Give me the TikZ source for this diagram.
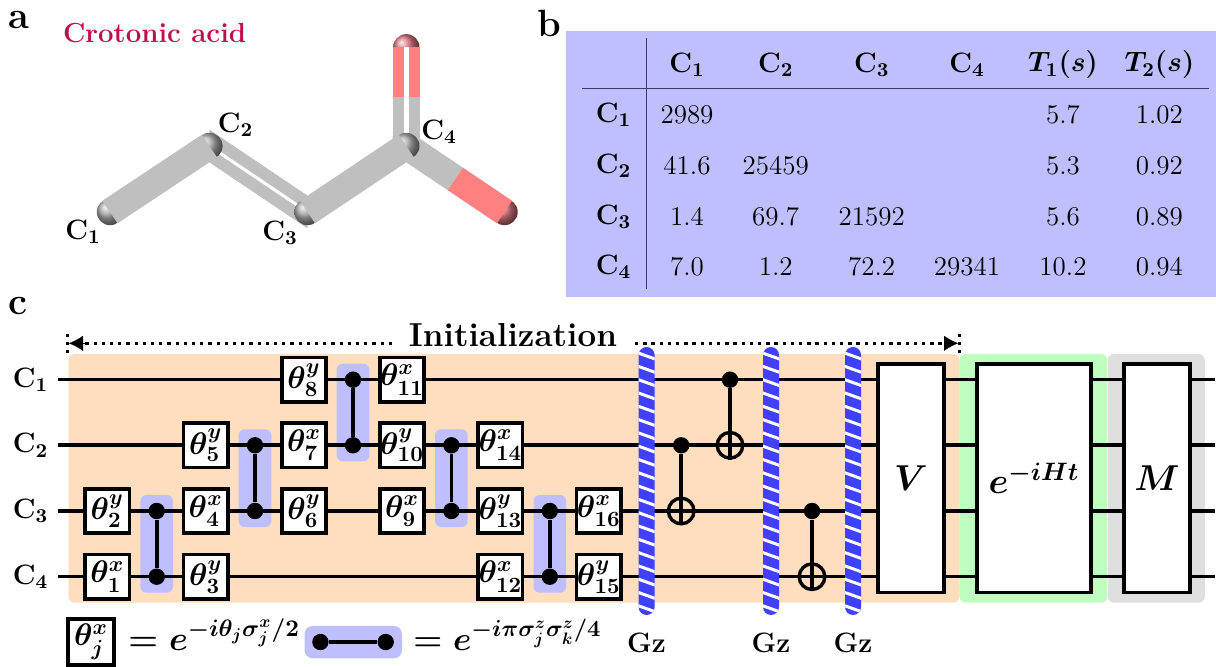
\RequirePackage{fix-cm}
\documentclass[tikz,border=0pt]{standalone}
\usepackage{amsmath}
\usetikzlibrary{arrows.meta}
\newcommand\fsz[1]{\fontsize{#1}{#1}\selectfont}
\definecolor{lav}{RGB}{191,191,255}
\definecolor{peach}{RGB}{255,222,191}
\definecolor{mint}{RGB}{191,255,191}
\definecolor{lgray}{RGB}{223,223,223}
\definecolor{bond}{RGB}{191,191,191}
\definecolor{bondred}{RGB}{255,128,128}
\definecolor{crim}{RGB}{192,16,76}
\definecolor{gzb}{RGB}{64,64,255}
\definecolor{ruleb}{RGB}{60,60,100}
\tikzset{
 x=0.5pt,y=-0.5pt,
 panel/.style={font=\fsz{19}\bfseries,inner sep=0,outer sep=0},
 lab/.style={font=\fsz{14}\boldmath,inner sep=0},
 num/.style={font=\fsz{13.5},inner sep=0},
 wire/.style={line width=1.8pt},
 gate/.style={draw,fill=white,line width=1.75pt,inner sep=0,minimum width=22.2pt,minimum height=22.2pt,font=\fsz{15.6}\boldmath},
 bigbox/.style={draw,fill=white,line width=1.75pt,inner sep=0,minimum width=#1,minimum height=114.2pt,font=\fsz{18}\boldmath},
 dot/.style={circle,fill=black,inner sep=0,minimum size=8.2pt},
 targ/.style={circle,draw,line width=1.7pt,inner sep=0,minimum size=12.8pt},
 gzbar/.style={fill=gzb,rounded corners=4pt,inner sep=0,minimum width=8pt,minimum height=134pt,
   path picture={\foreach \k in {0,...,20}{
     \draw[white,line width=1.5pt] ([xshift=-7pt,yshift=65pt-6.65*\k pt]path picture bounding box.center) -- ([xshift=7pt,yshift=60pt-6.65*\k pt]path picture bounding box.center);}}},
 initline/.style={line width=1.6pt,dash pattern=on 1.65pt off 2.45pt},
 inittip/.style={-{Latex[length=7pt,width=7.5pt]}},
 ball/.style={ball color=gray!65},
 oball/.style={ball color={rgb,255:red,220;green,120;blue,130}},
}
\begin{document}
\begin{tikzpicture}
\useasboundingbox (0,0) rectangle (1216,667);
% ---------- panel a
\node[panel] (pa) at (19,20) {a};
\node[font=\fsz{13.8}\bfseries,text=crim,inner sep=0] (title) at (154.6,33) {Crotonic acid};
\fill[bond] (406.3,162.4) -- (447.85,190.3) -- (462.95,167.7) -- (406.3,129.6) -- cycle;
\fill[bond] (392.55,96.7) rectangle (420.05,146);
\fill[bond] (392.55,146) -- (392.55,136) -- (406.3,129.6) -- (420.05,136) -- (420.05,146) -- cycle;
\draw[white,line width=2.25pt] (406.3,96.7) -- (406.3,146);
\fill[bond] (209.4,129.6) -- (307.5,195.6) -- (307.5,228.4) -- (209.4,162.4) -- cycle;
\draw[white,line width=1.5pt] (209.4,146) -- (307.5,212);
\shade[ball] (110,212) circle (6.6pt);
\shade[ball] (209.4,146) circle (6.6pt);
\shade[ball] (307.5,212) circle (6.6pt);
\shade[ball] (406.3,146) circle (6.6pt);
\shade[oball] (406.3,47.3) circle (6.6pt);
\shade[oball] (504.5,212) circle (6.6pt);
\fill[bond] (117.55,223.3) -- (102.45,200.7) -- (201.85,134.7) -- (216.95,157.3) -- cycle;
\fill[bond] (315.05,223.3) -- (299.95,200.7) -- (398.75,134.7) -- (413.85,157.3) -- cycle;
\fill[bondred] (392.55,47.3) rectangle (420.05,96.7);
\draw[white,line width=2.25pt] (406.3,47.3) -- (406.3,96.7);
\fill[bondred] (447.85,190.3) -- (462.95,167.7) -- (512.05,200.7) -- (496.95,223.3) -- cycle;
\node[lab] (l1) at (83,232) {$\mathbf{C}_1$};
\node[lab] (l2) at (235.5,125) {$\mathbf{C}_2$};
\node[lab] (l3) at (280,232.7) {$\mathbf{C}_3$};
\node[lab] (l4) at (439,132) {$\mathbf{C}_4$};
% ---------- panel b
\node[panel] (pb) at (549.5,23) {b};
\fill[lav] (566,31) rectangle (1216,297);
\coordinate (vt) at (646,38); \coordinate (vb) at (646,289);
\coordinate (hl) at (582.4,89); \coordinate (hr) at (1209,89);
\draw[ruleb,line width=0.5pt] (vt) -- (vb);
\draw[ruleb,line width=0.5pt] (hl) -- (hr);
\foreach \n/\x/\t in {1/687/{\mathbf{C}_1},2/775.7/{\mathbf{C}_2},3/871.7/{\mathbf{C}_3},4/967/{\mathbf{C}_4},5/1063/{T_1(s)},6/1159.4/{T_2(s)}}
  \node[lab] (h\n) at (\x,65) {$\t$};
\foreach \n/\y in {1/115,2/166,3/216.7,4/266.7}
  \node[lab] (r\n) at (613.5,\y) {$\mathbf{C}_\n$};
\foreach \n/\x/\y/\t in {
 a/687/115/2989,b/1063/115/5.7,c/1159.4/115/1.02,
 d/687/166/41.6,e/775.7/166/25459,f/1063/166/5.3,g/1159.4/166/0.92,
 h/687/216.7/1.4,i/775.7/216.7/69.7,j/871.7/216.7/21592,k/1063/216.7/5.6,l/1159.4/216.7/0.89,
 m/687/266.7/7.0,n/775.7/266.7/1.2,o/871.7/266.7/72.2,p/967/266.7/29341,q/1063/266.7/10.2,r/1159.4/266.7/0.94}
  \node[num] (v\n) at (\x,\y) {\t};
% ---------- panel c backgrounds
\node[panel] (pc) at (18,306) {c};
\fill[peach,rounded corners=3pt] (68.6,354) rectangle (959.5,602.7);
\fill[mint,rounded corners=3pt] (959.5,354) rectangle (1107.4,602.7);
\fill[lgray,rounded corners=3pt] (1107.8,354) rectangle (1204.8,602.7);
% initialization bracket
\node[font=\fsz{16.6}\bfseries,inner sep=0] (init) at (513,335) {Initialization};
\coordinate (iLa) at (67.3,334); \coordinate (iLb) at (67.3,353);
\coordinate (iRa) at (959.5,334); \coordinate (iRb) at (959.5,353);
\coordinate (iL) at (69,343.3); \coordinate (iLm) at (392,343.3);
\coordinate (iR) at (958,343.3); \coordinate (iRm) at (635,343.3);
\draw[initline] (iLa) -- (iLb);
\draw[initline] (iRa) -- (iRb);
\draw[initline] (iLm) -- (85,343.3);
\draw[initline] (iRm) -- (945,343.3);
\draw[inittip,line width=0.1pt] (85,343.3) -- (iL);
\draw[inittip,line width=0.1pt] (945,343.3) -- (iR);
% CZ backgrounds
\foreach \x/\a/\b in {156.7/511/576.7,255/445.3/511,353/379.7/445.3,451.4/445.3/511,549.8/511/576.7}
  \fill[lav,rounded corners=3pt] (\x-16.3,\a-16) rectangle (\x+16.3,\b+16);
% wires
\foreach \n/\y in {1/379.7,2/445.3,3/511,4/576.7}{
  \coordinate (ws\n) at (58.4,\y);
  \coordinate (we\n) at (1215,\y);
  \draw[wire] (ws\n) -- (we\n);
  \node[lab] (q\n) at (30.6,\y) {$\mathbf{C}_\n$};
}
% theta gates
\foreach \n/\a/\x/\y in {1/x/107.3/576.7,2/y/107.3/511,3/y/205.7/576.7,4/x/205.7/511,5/y/205.7/445.3,
 6/y/304/511,7/x/304/445.3,8/y/304/379.7,9/x/402/511,10/y/402/445.3,11/x/402/379.7,
 12/x/500.4/576.7,13/y/500.4/511,14/x/500.4/445.3,15/y/598.8/576.7,16/x/598.8/511}
  \node[gate] (g\n) at (\x,\y) {$\theta_{\n}^{\a}$};
% CZ gates
\foreach \n/\x/\a/\b in {1/156.7/511/576.7,2/255/445.3/511,3/353/379.7/445.3,4/451.4/445.3/511,5/549.8/511/576.7}{
  \node[dot] (cza\n) at (\x,\a) {};
  \node[dot] (czb\n) at (\x,\b) {};
  \draw[wire] (cza\n) -- (czb\n);
}
% CNOT gates
\foreach \n/\x/\a/\b in {1/681.2/445.3/511,2/730/379.7/445.3,3/812/511/576.7}{
  \node[dot] (cc\n) at (\x,\a) {};
  \node[targ] (ct\n) at (\x,\b) {};
  \draw[wire] (cc\n) -- (ct\n.south);
}
% Gz
\foreach \n/\x in {1/646.6,2/771,3/853}{
  \node[gzbar] (gz\n) at (\x,481) {};
  \node[font=\fsz{14}\bfseries,inner sep=0] (gzl\n) at (\x,643) {Gz};
}
% big boxes
\node[bigbox=32.9pt] (V) at (911,478.3) {$V$};
\node[bigbox=56.9pt] (U) at (1034,478.3) {$e^{-iHt}$};
\node[bigbox=32.9pt] (M) at (1157,478.3) {$M$};
% legend
\node[gate,minimum width=22.8pt,minimum height=22.8pt] (legbox) at (91,642) {$\theta_j^x$};
\node[font=\fsz{17}\boldmath,inner sep=0,anchor=base west] (legA) at (128,651) {$=e^{-i\theta_j\sigma_j^x/2}$};
\fill[lav,rounded corners=4pt] (304.5,626) rectangle (402,658.3);
\node[dot] (da) at (320.4,642) {};
\node[dot] (db) at (385.7,642) {};
\draw[wire] (da) -- (db);
\node[font=\fsz{16.6}\boldmath,inner sep=0,anchor=base west] (legB) at (413,651) {$=e^{-i\pi\sigma_j^z\sigma_k^z/4}$};
\end{tikzpicture}
\end{document}
